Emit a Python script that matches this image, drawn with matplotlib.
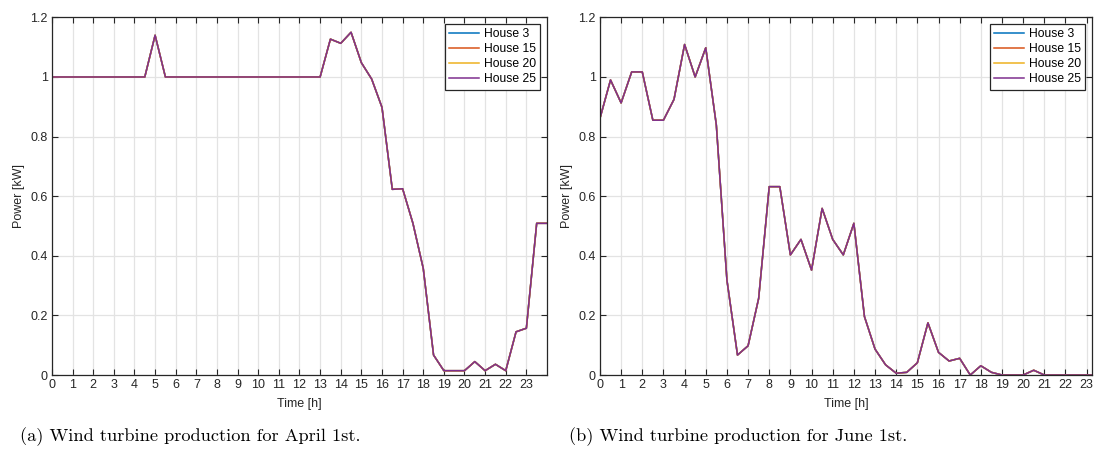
import matplotlib.pyplot as plt

plt.rcParams['font.family'] = ['Liberation Sans', 'DejaVu Sans']

# half-hourly wind production [kW], identical for all houses
time_apr = [i * 0.5 for i in range(49)]
power_apr = [1.0] * 10 + [1.14] + [1.0] * 16 + [
    1.127, 1.113, 1.15, 1.048, 0.993, 0.898, 0.623, 0.625, 0.509, 0.358,
    0.067, 0.0145, 0.0145, 0.0145, 0.045, 0.0145, 0.036, 0.0145, 0.145,
    0.157, 0.509, 0.509]

time_jun = [i * 0.5 for i in range(48)]
power_jun = [
    0.861, 0.99, 0.913, 1.017, 1.017, 0.855, 0.855, 0.925, 1.109, 1.0,
    1.098, 0.839, 0.319, 0.067, 0.098, 0.257, 0.632, 0.632, 0.403, 0.455,
    0.352, 0.559, 0.455, 0.403, 0.509, 0.196, 0.087, 0.034, 0.006, 0.009,
    0.041, 0.175, 0.076, 0.047, 0.056, 0.0, 0.031, 0.009, 0.0, 0.0,
    0.0, 0.016, 0.0, 0.0, 0.0, 0.0, 0.0, 0.0]

houses = ['House 3', 'House 15', 'House 20', 'House 25']
colors = ['#0072BD', '#D95319', '#EDB120', '#7E2F8E']
captions = ['(a) Wind turbine production for April 1st.',
            '(b) Wind turbine production for June 1st.']

fig = plt.figure(figsize=(10.94, 4.55), dpi=100)
ax1 = fig.add_axes([0.0475, 0.1758, 0.4525, 0.786])
ax2 = fig.add_axes([0.5484, 0.1758, 0.4497, 0.786])

dark = '#262626'
for ax, t, p, xmax, cap in [(ax1, time_apr, power_apr, 24, captions[0]),
                            (ax2, time_jun, power_jun, 23.25, captions[1])]:
    for h, c in zip(houses, colors):
        ax.plot(t, p, color=c, lw=1.1, label=h)
    ax.set_xlim(0, xmax)
    ax.set_ylim(0, 1.2)
    ax.set_xticks(range(24))
    ax.set_yticks([0, 0.2, 0.4, 0.6, 0.8, 1.0, 1.2])
    ax.set_yticklabels(['0', '0.2', '0.4', '0.6', '0.8', '1', '1.2'])
    ax.grid(True, color='#e3e3e3', lw=0.9)
    ax.set_axisbelow(True)
    ax.tick_params(direction='in', top=True, right=True, length=4,
                   labelsize=9, colors=dark, pad=3)
    for s in ax.spines.values():
        s.set_color(dark)
        s.set_linewidth(0.9)
    ax.set_xlabel('Time [h]', fontsize=9, color=dark, labelpad=5)
    ax.set_ylabel('Power [kW]', fontsize=9, color=dark, labelpad=4)
    leg = ax.legend(loc='upper right', fontsize=8.7, fancybox=False,
                    framealpha=1, edgecolor=dark, handlelength=2.5,
                    borderpad=0.35, labelspacing=0.25, handletextpad=0.4,
                    borderaxespad=0.55)
    leg.get_frame().set_linewidth(0.9)
    pos = ax.get_position()
    fig.text(pos.x0 + pos.width * 0.28, 0.04, cap, family='cmr10',
             fontsize=13.2, ha='center', va='center')

fig.savefig('out.png', dpi=100)
